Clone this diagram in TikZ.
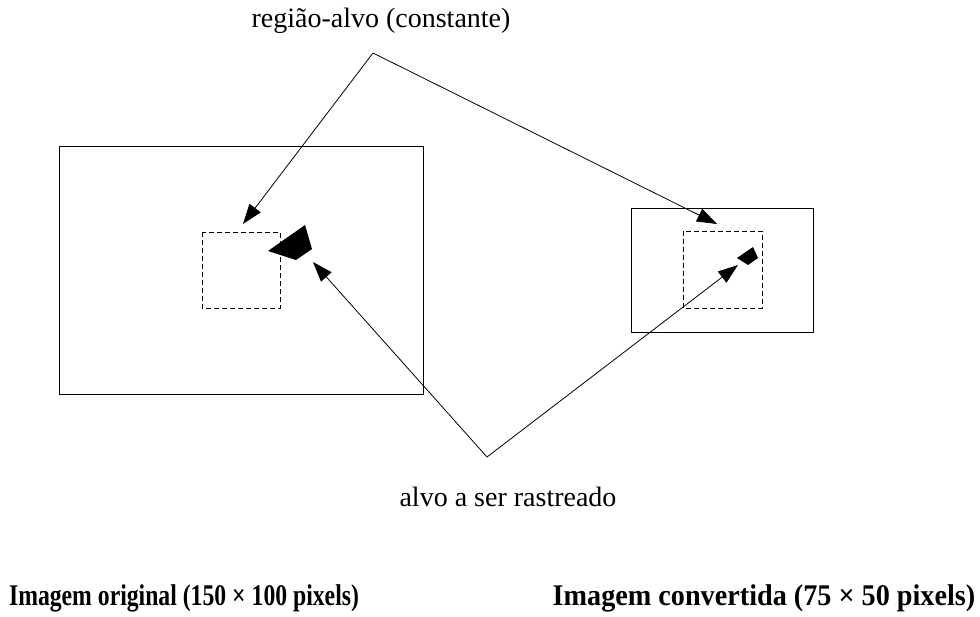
\documentclass[tikz,border=0pt]{standalone}
\usepackage{fontspec}
\usepackage{graphicx}
\setmainfont{Liberation Serif}
\usetikzlibrary{arrows.meta}

\begin{document}
\begin{tikzpicture}[x=1pt,y=-1pt,
  pointer/.style={-{Triangle[length=20pt,width=14pt]},line width=0.8pt},
  frame/.style={draw,line width=0.8pt},
  roi/.style={draw,dashed,line width=0.8pt,dash pattern=on 5pt off 3pt}]
\useasboundingbox (0,0) rectangle (980,616);

% imagem original
\draw [frame] (59,146) rectangle (423,394);
\draw [roi] (202,232) rectangle (280,308);
\fill (268,251) -- (305,225) -- (312,249) -- (296,260) -- cycle;

% imagem convertida
\draw [frame] (631,208) rectangle (813,332);
\draw [roi] (683,231) rectangle (762,308);
\fill (737,258) -- (753,247) -- (758,258) -- (748,265) -- cycle;

% rotulos
\node (regiao) at (381,21) {\fontsize{28}{32}\selectfont região-alvo (constante)};
\node (alvo) at (508,497) {\fontsize{28}{32}\selectfont alvo a ser rastreado};
\node (orig) at (184,598) {\scalebox{0.79}[1]{\fontsize{30}{36}\selectfont\bfseries Imagem original (150 × 100 pixels)}};
\node (conv) at (764,598) {\scalebox{0.94}[1]{\fontsize{30}{36}\selectfont\bfseries Imagem convertida (75 × 50 pixels)}};

\coordinate (topo) at (373,53);
\coordinate (base) at (487,457);
\coordinate (roiL) at (243,224);
\coordinate (roiR) at (717,224);
\coordinate (alvoL) at (313,262);
\coordinate (alvoR) at (738,265);

\draw [pointer] (topo) -- (roiL);
\draw [pointer] (topo) -- (roiR);
\draw [pointer] (base) -- (alvoL);
\draw [pointer] (base) -- (alvoR);
\end{tikzpicture}
\end{document}
